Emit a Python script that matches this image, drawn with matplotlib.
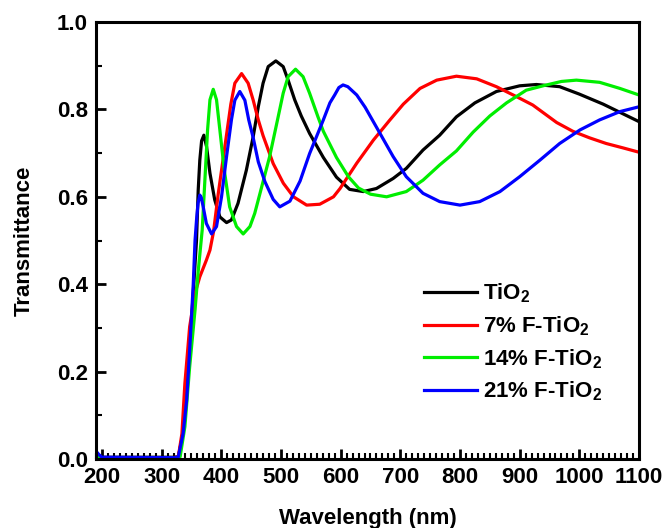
import matplotlib
matplotlib.use("Agg")
import matplotlib.pyplot as plt
from matplotlib.ticker import MultipleLocator

plt.rcParams["font.family"] = ["Liberation Sans", "DejaVu Sans"]
plt.rcParams["font.weight"] = "bold"
plt.rcParams["mathtext.fontset"] = "custom"
plt.rcParams["mathtext.rm"] = "Liberation Sans:bold"
plt.rcParams["mathtext.it"] = "Liberation Sans:bold"
plt.rcParams["mathtext.bf"] = "Liberation Sans:bold"

# values (wavelength in nm, transmittance)
tio2_wl = [190, 200, 320, 328, 336, 342, 348, 353, 358.5, 361.3, 364, 367,
           370.8, 375.3, 381, 389, 397.6, 408.8, 417, 428, 442, 453.5, 462,
           470, 478.6, 491.4, 503.7, 512, 523, 534, 548, 571, 593, 615, 638,
           660, 688, 710, 738, 766, 794, 825, 861, 900, 928, 967, 1000, 1040,
           1070, 1100]
tio2_t = [0.012, 0.004, 0.004, 0.005, 0.06, 0.15, 0.27, 0.38, 0.501, 0.615,
          0.684, 0.728, 0.741, 0.715, 0.654, 0.593, 0.554, 0.541, 0.547, 0.585,
          0.661, 0.738, 0.806, 0.860, 0.898, 0.911, 0.898, 0.867, 0.822, 0.785,
          0.745, 0.690, 0.645, 0.617, 0.612, 0.619, 0.642, 0.665, 0.707, 0.741,
          0.783, 0.815, 0.841, 0.854, 0.857, 0.852, 0.835, 0.812, 0.792, 0.772]

f7_wl = [190, 200, 318, 328, 334, 339, 347, 356, 364, 375, 381, 387, 395, 406,
         416, 422.7, 434, 445, 453.5, 462, 470, 487, 504, 521, 543, 565, 588,
         599, 627, 655, 682, 705, 733, 761, 794, 828, 861, 895, 922, 934, 962,
         989, 1017, 1045, 1073, 1100]
f7_t = [0.008, 0.003, 0.003, 0.005, 0.058, 0.173, 0.303, 0.379, 0.417, 0.455,
        0.478, 0.52, 0.608, 0.715, 0.812, 0.860, 0.882, 0.860, 0.821, 0.776,
        0.740, 0.676, 0.631, 0.600, 0.581, 0.583, 0.600, 0.619, 0.677, 0.730,
        0.775, 0.812, 0.848, 0.867, 0.876, 0.870, 0.852, 0.829, 0.810, 0.798,
        0.770, 0.750, 0.735, 0.722, 0.712, 0.702]

f14_wl = [190, 200, 322, 331, 339, 347, 356, 361, 368, 372.5, 377, 381, 386.5,
          392, 397.6, 405, 414, 425.5, 436.7, 448, 456, 462, 481, 495.3, 503.7,
          512, 524.4, 537, 548, 562, 571, 593, 613, 630, 650, 677, 710, 738,
          766, 794, 822, 850, 878, 911, 942, 970, 995, 1034, 1068, 1100]
f14_t = [0.006, 0.003, 0.003, 0.005, 0.074, 0.211, 0.341, 0.425, 0.524, 0.638,
         0.753, 0.822, 0.846, 0.822, 0.753, 0.661, 0.577, 0.532, 0.515, 0.532,
         0.562, 0.593, 0.692, 0.783, 0.837, 0.875, 0.892, 0.875, 0.837, 0.783,
         0.750, 0.690, 0.646, 0.620, 0.606, 0.600, 0.612, 0.638, 0.673, 0.705,
         0.748, 0.785, 0.815, 0.844, 0.855, 0.864, 0.867, 0.862, 0.848, 0.833]

f21_wl = [190, 195, 200, 322, 328, 336, 342, 347, 353, 356, 358.5, 361, 364,
          366.5, 369.7, 375, 383.7, 392, 400.4, 408.8, 417, 422.7, 431, 439.5,
          446, 453.5, 462, 473, 487, 498, 515, 532, 548, 571, 582, 590, 597,
          604, 612, 627, 641, 666, 688, 710, 738, 766, 800, 833, 867, 900, 934,
          967, 1001, 1034, 1068, 1100]
f21_t = [0.018, 0.01, 0.004, 0.003, 0.005, 0.058, 0.135, 0.249, 0.40, 0.50,
         0.547, 0.585, 0.604, 0.598, 0.577, 0.539, 0.515, 0.532, 0.600, 0.692,
         0.776, 0.821, 0.841, 0.821, 0.776, 0.735, 0.680, 0.635, 0.594, 0.577,
         0.590, 0.636, 0.699, 0.776, 0.815, 0.833, 0.850, 0.856, 0.852, 0.833,
         0.805, 0.745, 0.692, 0.646, 0.608, 0.589, 0.581, 0.589, 0.612, 0.646,
         0.684, 0.722, 0.753, 0.776, 0.795, 0.806]

labels = ["TiO$_2$", "7% F-TiO$_2$", "14% F-TiO$_2$", "21% F-TiO$_2$"]
colors = ["#000000", "#ff0000", "#00ee00", "#0000ff"]

fig = plt.figure(figsize=(6.66, 5.28), dpi=100)
ax = fig.add_axes([0.1441, 0.1307, 0.8154, 0.8276])

series = [(tio2_wl, tio2_t), (f7_wl, f7_t), (f14_wl, f14_t), (f21_wl, f21_t)]
for (wl, t), lab, c in zip(series, labels, colors):
    ax.plot(wl, t, color=c, lw=2.3, label=lab, solid_joinstyle="round")

ax.set_xlim(190, 1100)
ax.set_ylim(0, 1.0)
ax.set_xticks(range(200, 1101, 100))
ax.xaxis.set_minor_locator(MultipleLocator(10))
ax.yaxis.set_major_locator(MultipleLocator(0.2))
ax.yaxis.set_minor_locator(MultipleLocator(0.1))
ax.tick_params(which="both", direction="in", top=False, right=False,
               labelsize=16, width=2)
ax.tick_params(which="major", length=7, pad=6)
ax.tick_params(which="minor", length=4, width=1.5)
for s in ax.spines.values():
    s.set_linewidth(2.2)

ax.set_xlabel("Wavelength (nm)", fontsize=16, fontweight="bold", labelpad=14)
ax.set_ylabel("Transmittance", fontsize=16, fontweight="bold", labelpad=16)

ax.legend(loc="upper left", bbox_to_anchor=(0.604, 0.406), frameon=False,
          fontsize=16, handlelength=2.4, handletextpad=0.27, labelspacing=0.41,
          borderaxespad=0, borderpad=0)

fig.savefig("out.png", dpi=100)
